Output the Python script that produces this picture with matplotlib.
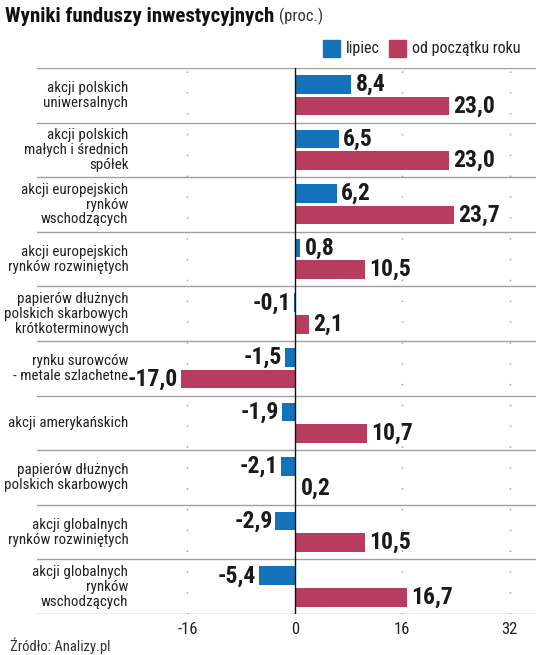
import matplotlib
matplotlib.use("Agg")
import matplotlib.pyplot as plt
from matplotlib.patches import Rectangle

plt.rcParams['font.family'] = ['Roboto Condensed', 'DejaVu Sans']

categories = [
    "akcji polskich\nuniwersalnych",
    "akcji polskich\nmałych i średnich\nspółek",
    "akcji europejskich\nrynków\nwschodzących",
    "akcji europejskich\nrynków rozwiniętych",
    "papierów dłużnych\npolskich skarbowych\nkrótkoterminowych",
    "rynku surowców\n- metale szlachetne",
    "akcji amerykańskich",
    "papierów dłużnych\npolskich skarbowych",
    "akcji globalnych\nrynków rozwiniętych",
    "akcji globalnych\nrynków\nwschodzących",
]
lipiec = [8.4, 6.5, 6.2, 0.8, -0.1, -1.5, -1.9, -2.1, -2.9, -5.4]
od_poczatku = [23.0, 23.0, 23.7, 10.5, 2.1, -17.0, 10.7, 0.2, 10.5, 16.7]
xticks = [-16, 0, 16, 32]
series_names = ["lipiec", "od początku roku"]

BLUE = "#1372b9"
RED = "#b73c5e"

fig = plt.figure(figsize=(5.36, 6.55), dpi=100)
ax = fig.add_axes([37/536, (655-614)/655, 499/536, (614-68)/655])
ax.set_xlim(-38.4, 35.9)
ax.set_ylim(len(categories), 0)

h = 0.34
def fmt(v):
    return f"{v:.1f}".replace(".", ",")

for i, (a, b) in enumerate(zip(lipiec, od_poczatku)):
    ya = i + 0.30
    yb = i + 0.695
    ax.barh(ya, a, height=h, color=BLUE, zorder=3)
    ax.barh(yb, b, height=h, color=RED, zorder=3)
    for v, y in ((a, ya), (b, yb)):
        if v >= 0:
            ax.annotate(fmt(v), (v, y), xytext=(3, 0), textcoords="offset points",
                        ha="left", va="center", fontsize=17, fontweight="bold", color="#1a1a1a")
        else:
            ax.annotate(fmt(v), (v, y), xytext=(-2, 0), textcoords="offset points",
                        ha="right", va="center", fontsize=17, fontweight="bold", color="#1a1a1a")
    ax.text(0.183, i + 0.5, categories[i], transform=ax.get_yaxis_transform(),
            ha="right", va="center", fontsize=10.8, color="#222222", linespacing=1.08,
            clip_on=False)

for k in range(len(categories) + 1):
    ax.axhline(k, color="#a0a0a0", lw=1.0, zorder=1)

for t in xticks:
    if t != 0:
        ax.axvline(t, color="#999999", lw=1.0, linestyle=(0, (1, 14)), zorder=0)
ax.axvline(0, color="#111111", lw=1.0, zorder=4)

ax.set_xticks(xticks)
ax.set_xticklabels([str(t) for t in xticks])
ax.tick_params(axis="x", length=0, labelsize=12, labelcolor="#222222", pad=6)
ax.set_yticks([])
for s in ax.spines.values():
    s.set_visible(False)

fig.text(5/536, 1 - 16/655, "Wyniki funduszy inwestycyjnych", fontsize=15, fontweight="bold",
         color="#111111", ha="left", va="center")
fig.canvas.draw()
r = fig.texts[0].get_window_extent()
fig.text((r.x1 + 5) / 536, 1 - 16/655, "(proc.)", fontsize=12, color="#333333",
         ha="left", va="center")

for x0, col, name in ((323, BLUE, series_names[0]), (389, RED, series_names[1])):
    fig.patches.append(Rectangle((x0/536, 1 - 57/655), 17/536, 17/655,
                                 transform=fig.transFigure, color=col))
    fig.text((x0 + 23)/536, 1 - 48.5/655, name, fontsize=11.5, color="#222222",
             ha="left", va="center")

fig.text(10/536, 1 - 646/655, "Źródło: Analizy.pl", fontsize=10.5, color="#333333",
         ha="left", va="center")

fig.savefig("out.png", dpi=100)
